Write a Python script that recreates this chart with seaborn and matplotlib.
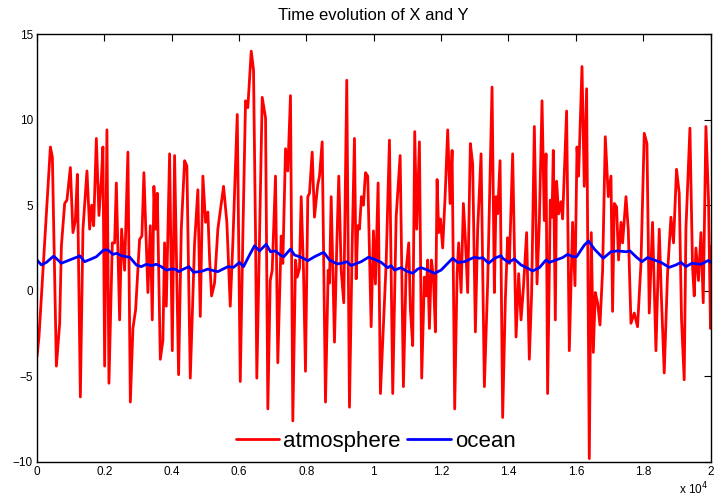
import numpy as np
import pandas as pd
import matplotlib
matplotlib.use('Agg')
import matplotlib.pyplot as plt
import seaborn as sns

OUTPUT_PATH = 'out.png'

# Atmosphere (X): time steps and values
atmos_t = [0, 59, 398, 457, 576, 674, 724, 822, 890, 991, 1068, 1139, 1199, 1288, 1365,
           1484, 1564, 1623, 1683, 1763, 1840, 1911, 1958, 2009, 2077, 2137, 2237, 2306,
           2356, 2454, 2513, 2602, 2700, 2772, 2849, 2929, 3047, 3116, 3175, 3294, 3365,
           3424, 3472, 3522, 3573, 3662, 3739, 3789, 3840, 3938, 4018, 4086, 4205, 4285,
           4383, 4451, 4552, 4680, 4777, 4849, 4926, 5006, 5074, 5125, 5184, 5273, 5371,
           5540, 5638, 5739, 5816, 5947, 6036, 6113, 6193, 6261, 6362, 6430, 6490, 6528,
           6688, 6787, 6855, 6926, 6985, 7083, 7151, 7252, 7300, 7380, 7448, 7528, 7597,
           7677, 7727, 7795, 7846, 7914, 7973, 8042, 8092, 8172, 8240, 8338, 8389, 8469,
           8567, 8647, 8686, 8736, 8834, 8902, 8962, 9033, 9110, 9199, 9279, 9359, 9427,
           9478, 9525, 9576, 9635, 9694, 9754, 9822, 9923, 9991, 10050, 10130, 10199,
           10267, 10368, 10466, 10564, 10665, 10784, 10881, 10961, 11039, 11089, 11157,
           11217, 11276, 11356, 11424, 11504, 11555, 11602, 11653, 11712, 11771, 11831,
           11881, 11929, 11979, 12047, 12119, 12196, 12267, 12327, 12404, 12475, 12522,
           12594, 12662, 12721, 12789, 12869, 12938, 13018, 13086, 13187, 13285, 13383,
           13433, 13513, 13582, 13632, 13680, 13751, 13828, 13908, 13976, 14027, 14125,
           14226, 14303, 14374, 14442, 14540, 14620, 14689, 14769, 14849, 14917, 14997,
           15065, 15116, 15163, 15243, 15294, 15332, 15392, 15430, 15490, 15561, 15609,
           15727, 15807, 15905, 15976, 16036, 16083, 16184, 16252, 16321, 16401, 16460,
           16520, 16579, 16647, 16718, 16796, 16876, 16965, 17045, 17092, 17143, 17211,
           17270, 17342, 17390, 17490, 17558, 17638, 17736, 17834, 17935, 18033, 18113,
           18181, 18279, 18380, 18478, 18537, 18626, 18724, 18825, 18902, 18991, 19071,
           19140, 19219, 19270, 19389, 19466, 19517, 19567, 19644, 19716, 19784, 19864,
           19941, 20000, 20035]
atmos_x = [-3.85, -2.7, 8.4, 7.8, -4.4, -1.9, 2.6, 5.1, 5.3, 7.2, 3.4, 4.1, 6.8, -6.2, 3.6,
           7.0, 3.6, 5.0, 3.8, 8.9, 4.4, 6.5, 8.4, -4.4, 9.4, -5.4, 2.8, 2.8,
           6.3, -1.7, 3.6, 1.2, 8.1, -6.5, -2.2, -1.1, 3.0, 3.2, 6.9, -0.1, 3.8,
           -1.7, 6.1, 3.6, 5.7, -4.0, -2.9, 2.8, -0.9, 8.0, -3.5, 7.9, -4.9, 3.6,
           7.6, 7.3, -5.1, 2.8, 5.9, -1.5, 6.7, 4.0, 4.6, 1.9, -0.3, 0.45, 3.6,
           6.1, 4.0, -0.9, 2.8, 10.3, -5.3, 3.2, 11.1, 10.7, 14.0, 12.9, 3.2, -5.1,
           11.3, 10.1, -6.9, 0.6, 1.2, 6.7, -4.2, 3.2, 1.6, 8.3, 7.0, 11.4, -7.6,
           1.8, 0.8, 1.3, 5.5, 1.2, -4.7, 5.5, 5.7, 8.1, 4.3, 6.2, 6.7, 8.7,
           -6.5, 1.2, 0.45, 5.5, -3.0, 2.6, 6.7, 1.2, -0.7, 12.3, -6.8, 2.6, 8.9,
           0.7, 3.8, 3.6, 5.5, 5.0, 6.9, 6.7, -2.1, 3.5, 0.4, 6.3, -6.0,
           -2.9, 1.6, 8.8, -6.0, 4.3, 7.9, -5.6, 1.2, 2.8, -1.1, -3.2,
           9.3, 3.6, 8.7, -5.1, 0.8, -0.3, 1.8, -2.2, 1.8, 0.8, -2.4,
           6.5, 3.4, 4.2, 2.5, 5.5, 9.4, 5.1, 8.2, -6.9, 1.0, 2.8,
           -0.1, 5.1, 3.0, -0.1, 8.6, 7.4, -2.4, 3.6, 8.0, -5.6, 0.45,
           4.9, 11.9, -0.1, 5.5, 4.5, 7.6, -7.4, -0.5, 3.1, 1.6, 8.0,
           -2.7, 1.0, -1.7, 0.1, 3.4, -4.0, -0.1, 9.6, 0.4, 4.0, 11.1,
           4.1, 8.0, -6.0, 5.3, 4.3, 8.2, -1.7, 6.4, 4.5, 5.2, 4.2,
           10.5, -3.5, 4.0, 0.3, 8.4, 6.7, 13.1, 6.1, 11.8, -9.8, 3.4,
           -3.6, -0.1, -0.7, -2.0, 1.2, 9.0, 5.5, 6.7, -1.2, 5.1, 4.9,
           1.8, 4.0, 2.8, 5.5, 3.6, -1.9, -1.3, -2.1, 1.6, 9.2, 8.6,
           -1.3, 4.0, -3.5, 3.6, -0.1, -4.8, 1.0, 4.3, 2.8, 7.1, 5.7,
           -1.7, -5.2, 3.6, 9.5, 1.4, -0.3, 2.5, 0.6, 3.4, -0.7, 9.6,
           5.3, -2.2, 2.6]

# Ocean (Y)
ocean_t = [0, 131, 279, 496, 724, 970, 1217, 1267, 1415, 1614, 1763, 1979, 2107, 2255,
           2374, 2504, 2653, 2751, 2950, 3098, 3246, 3395, 3543, 3691, 3840, 3988, 4116,
           4214, 4353, 4510, 4650, 4807, 4926, 5074, 5273, 5371, 5668, 5837, 6015, 6133,
           6311, 6460, 6609, 6807, 6935, 7074, 7252, 7329, 7528, 7647, 7846, 8042, 8241,
           8516, 8686, 8914, 9050, 9211, 9330, 9427, 9626, 9843, 10021, 10220, 10416,
           10517, 10615, 10813, 10962, 11158, 11306, 11407, 11603, 11802, 12000, 12344,
           12493, 12691, 12988, 13137, 13235, 13413, 13585, 13781, 13828, 14006, 14175,
           14374, 14570, 14718, 14917, 15116, 15214, 15413, 15609, 15757, 15905, 16024,
           16253, 16380, 16549, 16816, 17044, 17240, 17490, 17608, 17786, 17964, 18131,
           18330, 18528, 18774, 18974, 19122, 19270, 19448, 19716, 19941, 20000]
ocean_y = [1.80, 1.51, 1.66, 2.03, 1.61, 1.80, 1.99, 2.05, 1.70, 1.86, 1.99, 2.38, 2.38, 2.13,
           2.19, 2.05, 1.99, 1.97, 1.51, 1.41, 1.55, 1.47, 1.55, 1.41, 1.21, 1.27, 1.26,
           1.12, 1.27, 1.41, 1.08, 1.12, 1.16, 1.27, 1.16, 1.12, 1.41, 1.37, 1.66, 1.41,
           2.09, 2.63, 2.33, 2.72, 2.28, 2.33, 2.05, 1.99, 2.44, 2.09, 1.96, 1.76, 1.99,
           2.25, 1.80, 1.57, 1.61, 1.70, 1.47, 1.55, 1.70, 1.96, 1.84, 1.66, 1.35,
           1.47, 1.21, 1.35, 1.16, 1.02, 1.27, 1.35, 1.21, 1.02, 1.21, 1.90,
           1.66, 1.70, 1.96, 1.90, 1.94, 1.61, 1.90, 2.05, 1.90, 1.66, 1.86,
           1.51, 1.32, 1.16, 1.35, 1.80, 1.66, 1.80, 1.94, 2.13, 1.99, 1.99,
           2.67, 2.91, 2.44, 1.90, 2.28, 2.33, 2.28, 2.33, 1.99, 1.70, 1.94,
           1.80, 1.66, 1.37, 1.51, 1.66, 1.41, 1.61, 1.55, 1.78, 1.66]

x_ticks = [0, 2000, 4000, 6000, 8000, 10000, 12000, 14000, 16000, 18000, 20000]
x_tick_labels = ['0', '0.2', '0.4', '0.6', '0.8', '1', '1.2', '1.4', '1.6', '1.8', '2']
y_ticks = [-10, -5, 0, 5, 10, 15]

# Long-form table for seaborn
df = pd.concat([
    pd.DataFrame({'t': atmos_t, 'value': atmos_x, 'series': 'atmosphere'}),
    pd.DataFrame({'t': ocean_t, 'value': ocean_y, 'series': 'ocean'}),
], ignore_index=True)

sns.set_style('white')
plt.rcParams['font.family'] = ['Liberation Sans', 'DejaVu Sans']
plt.rcParams['text.color'] = 'black'
plt.rcParams['axes.labelcolor'] = 'black'
plt.rcParams['xtick.color'] = 'black'
plt.rcParams['ytick.color'] = 'black'

fig = plt.figure(figsize=(7.14, 5.0), dpi=100)
ax = fig.add_axes([0.0518, 0.076, 0.9433, 0.856])

sns.lineplot(data=df, x='t', y='value', hue='series',
             palette={'atmosphere': '#ff0000', 'ocean': '#0000ff'},
             estimator=None, linewidth=2.0, ax=ax)

ax.set_xlim(0, 20000)
ax.set_ylim(-10, 15)
ax.set_xticks(x_ticks)
ax.set_xticklabels(x_tick_labels)
ax.set_yticks(y_ticks)
ax.set_xlabel('')
ax.set_ylabel('')
ax.tick_params(direction='in', top=True, right=True, length=5, width=0.8,
               labelsize=8.5, colors='black', pad=3)
for spine in ax.spines.values():
    spine.set_color('black')
    spine.set_linewidth(1.0)

ax.set_title('Time evolution of X and Y', fontsize=12, pad=10, color='black')

sns.move_legend(ax, 'center', bbox_to_anchor=(0.503, 0.049), ncol=2, frameon=False,
                title=None, fontsize=16, handlelength=1.95, handletextpad=0.2,
                columnspacing=0.3, labelcolor='black')

fig.text(0.951, 0.012, r'x 10$^4$', fontsize=8.5, color='black')

plt.savefig(OUTPUT_PATH, dpi=100)
